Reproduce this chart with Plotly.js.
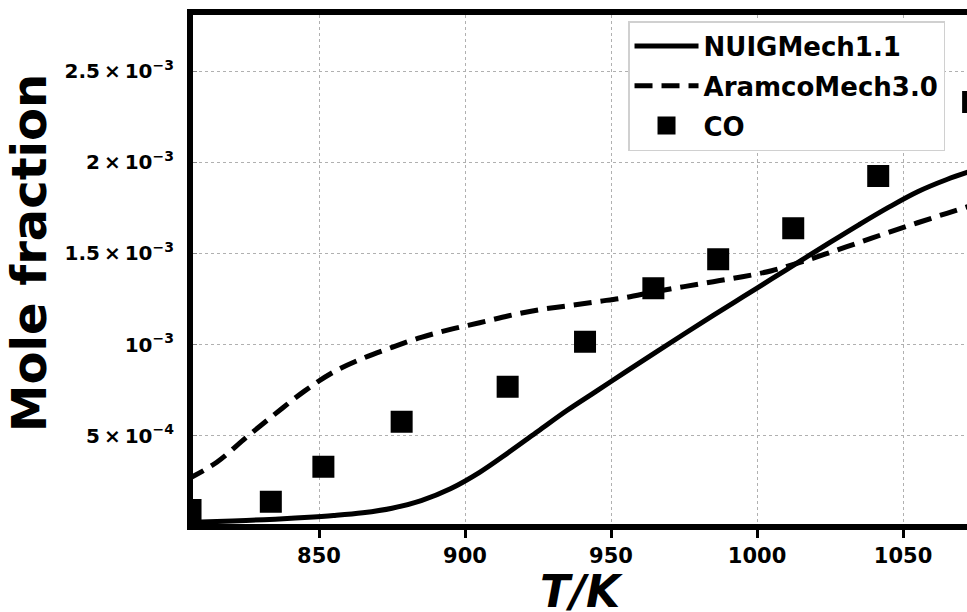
<!DOCTYPE html>
<html>
<head>
<meta charset="utf-8">
<script src="https://cdn.plot.ly/plotly-3.0.1.min.js"></script>
<style>
html, body { margin: 0; padding: 0; overflow: hidden; background: #fff; }
#chart { width: 980px; height: 612px; }
</style>
</head>
<body>
<div id="chart"></div>
<script>
// Model curve: NUIGMech1.1 (T in K, mole fraction)
const nuigT = [805, 815, 825, 835, 845, 855, 865, 875, 885, 895, 905, 915, 925, 935, 945, 955, 965, 975, 985, 995, 1005, 1015, 1025, 1035, 1045, 1055, 1065, 1075];
const nuigX = [0.025e-3, 0.030e-3, 0.036e-3, 0.043e-3, 0.052e-3, 0.063e-3, 0.078e-3, 0.103e-3, 0.145e-3, 0.210e-3, 0.300e-3, 0.410e-3, 0.525e-3, 0.640e-3, 0.745e-3, 0.850e-3, 0.955e-3, 1.058e-3, 1.160e-3, 1.260e-3, 1.360e-3, 1.460e-3, 1.560e-3, 1.658e-3, 1.752e-3, 1.838e-3, 1.905e-3, 1.960e-3];

// Model curve: AramcoMech3.0
const aramcoT = [805, 815, 825, 835, 845, 855, 865, 875, 885, 895, 905, 915, 925, 935, 945, 955, 965, 975, 985, 995, 1005, 1015, 1025, 1035, 1045, 1055, 1065, 1075];
const aramcoX = [0.262e-3, 0.355e-3, 0.490e-3, 0.620e-3, 0.745e-3, 0.850e-3, 0.925e-3, 0.985e-3, 1.040e-3, 1.083e-3, 1.120e-3, 1.158e-3, 1.190e-3, 1.212e-3, 1.235e-3, 1.258e-3, 1.290e-3, 1.318e-3, 1.345e-3, 1.372e-3, 1.405e-3, 1.452e-3, 1.505e-3, 1.560e-3, 1.615e-3, 1.668e-3, 1.720e-3, 1.770e-3];

// Experimental CO
const coT = [806, 833.5, 851.5, 878.3, 914.6, 941.1, 964.5, 986.7, 1012.4, 1041.5, 1074];
const coX = [0.093e-3, 0.139e-3, 0.330e-3, 0.577e-3, 0.769e-3, 1.016e-3, 1.309e-3, 1.468e-3, 1.638e-3, 1.924e-3, 2.330e-3];

// Axis ticks
const xTickVals = [850, 900, 950, 1000, 1050];
const xTickText = ['850', '900', '950', '1000', '1050'];
const yTickVals = [5e-4, 1e-3, 1.5e-3, 2e-3, 2.5e-3];
const yTickText = ['5\u2009×\u200910<sup>−4</sup>', '10<sup>−3</sup>', '1.5\u2009×\u200910<sup>−3</sup>', '2\u2009×\u200910<sup>−3</sup>', '2.5\u2009×\u200910<sup>−3</sup>'];

const FONT = 'DejaVu Sans, Liberation Sans, sans-serif';

const traces = [
  { x: nuigT, y: nuigX, name: 'NUIGMech1.1', mode: 'lines', legendgroup: 'a',
    line: { color: '#000', width: 5, shape: 'spline' } },
  { x: aramcoT, y: aramcoX, name: 'AramcoMech3.0', mode: 'lines', legendgroup: 'b',
    line: { color: '#000', width: 5, dash: '18px,9px', shape: 'spline' } },
  { x: coT, y: coX, name: 'CO', mode: 'markers', legendgroup: 'c',
    marker: { symbol: 'square', size: 20, color: '#000', line: { color: '#000', width: 2 } } }
];

const layout = {
  width: 980, height: 612,
  margin: { l: 193, r: 6, t: 15, b: 88 },
  paper_bgcolor: '#fff', plot_bgcolor: '#fff',
  font: { family: FONT, color: '#000' },
  showlegend: true,
  legend: {
    x: 0.557, y: 0.988, xanchor: 'left', yanchor: 'top',
    bgcolor: '#fff', bordercolor: '#d0d0d0', borderwidth: 1.5,
    font: { family: FONT, size: 26, weight: 700, color: '#000' },
    itemwidth: 64, tracegroupgap: 3
  },
  xaxis: {
    range: [806.85, 1074.3],
    tickvals: xTickVals, ticktext: xTickText,
    ticks: 'outside', ticklen: 8, tickwidth: 3, tickcolor: '#000',
    tickfont: { family: FONT, size: 21, weight: 700, color: '#000' },
    showline: true, linecolor: '#000', linewidth: 6, mirror: true,
    showgrid: true, gridcolor: '#b0b0b0', gridwidth: 1, griddash: 'dot',
    zeroline: false
  },
  yaxis: {
    range: [0.0164e-3, 2.807e-3],
    tickvals: yTickVals, ticktext: yTickText,
    ticks: 'inside', ticklen: 4, tickwidth: 1, tickcolor: '#888',
    tickfont: { family: FONT, size: 20, weight: 700, color: '#000' },
    ticklabelstandoff: 9,
    showline: true, linecolor: '#000', linewidth: 6, mirror: true,
    showgrid: true, gridcolor: '#b0b0b0', gridwidth: 1, griddash: 'dot',
    zeroline: false
  },
  annotations: [
    {
      text: 'Mole fraction', textangle: -90, showarrow: false,
      xref: 'paper', yref: 'paper', x: -0.21, y: 0.532,
      xanchor: 'center', yanchor: 'middle',
      font: { family: FONT, size: 48, weight: 700, color: '#000' }
    },
    {
      text: '<i>T/K</i>', showarrow: false,
      xref: 'paper', yref: 'paper', x: 0.498, y: -0.133,
      xanchor: 'center', yanchor: 'middle',
      font: { family: FONT, size: 44, weight: 700, color: '#000' }
    }
  ]
};

Plotly.newPlot('chart', traces, layout, { displayModeBar: false, staticPlot: true });
</script>
</body>
</html>
